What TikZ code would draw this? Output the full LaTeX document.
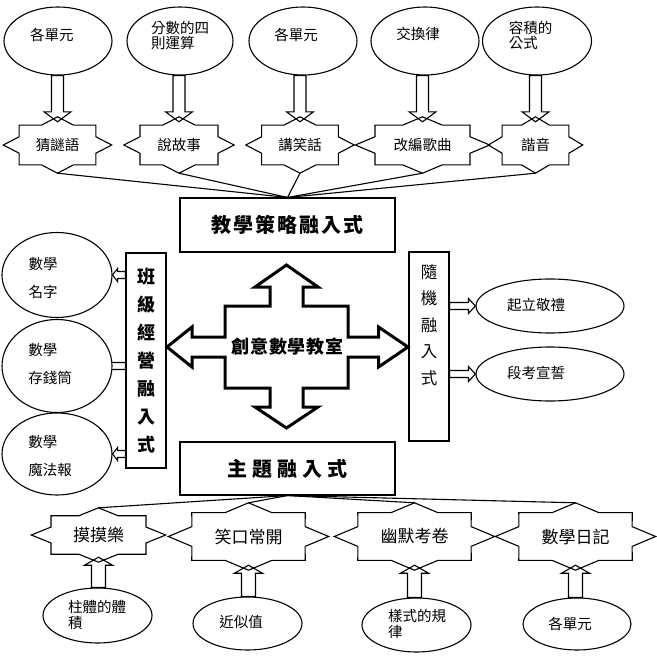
\documentclass[tikz,border=0pt]{standalone}
\usepackage{fontspec}
\setmainfont{Noto Sans CJK TC}
\newfontfamily\titlefont[LetterSpace=10]{Noto Sans CJK TC}
\newfontfamily\themefont[LetterSpace=25]{Noto Sans CJK TC}
\newfontfamily\centerfont[LetterSpace=5]{Noto Sans CJK TC}
\usetikzlibrary{shapes.geometric, calc, backgrounds}

% eight-point star drawn round a named node (node box = outer points)
\newcommand{\starframe}[1]{%
  \draw[starline] let \p1=($(#1.north east)-(#1.center)$) in
    (#1.east) \foreach \k in {0,...,7}{
      -- ($(#1.center)+({0.765*\x1*cos(\k*45+22.5)},{0.765*\y1*sin(\k*45+22.5)})$)
      -- ($(#1.center)+({\x1*cos(\k*45+45)},{\y1*sin(\k*45+45)})$)} -- cycle;
}

% block arrow: [overshoot]{from}{to}{shaft half}{head half}{head length}
\newcommand{\hollowarrow}[6][5pt]{%
  \coordinate (ha) at (#2);
  \coordinate (hb) at ($(#3)!-#1!(#2)$);
  \coordinate (hc) at ($(hb)!#6!(ha)$);
  \draw[arrowline] ($(ha)!#4!90:(hb)$) -- ($(hc)!#4!90:(hb)$) -- ($(hc)!#5!90:(hb)$) -- (hb)
     -- ($(hc)!#5!-90:(hb)$) -- ($(hc)!#4!-90:(hb)$) -- ($(ha)!#4!-90:(hb)$) -- cycle;
}

\begin{document}
\begin{tikzpicture}[
    x=1pt, y=-1pt,
    ell/.style={draw, ellipse, line width=1.1pt, fill=white, inner sep=0},
    txt/.style={font=\fontsize{14.5}{15}\selectfont, align=left, inner sep=0},
    wtxt/.style={font=\fontsize{14.5}{28}\selectfont, align=left, inner sep=0},
    stop/.style={inner sep=0, minimum height=56, font=\fontsize{14.5}{16}\selectfont},
    sbot/.style={inner sep=0, minimum height=67, font=\fontsize{17}{18}\selectfont},
    starline/.style={line width=1.1pt},
    arrowline/.style={line width=1.1pt},
    link/.style={line width=1.1pt},
    tbox/.style={draw, line width=1.1pt, inner sep=0, font=\fontsize{20}{22}\titlefont\bfseries},
    cross/.style={line width=3pt, line join=miter},
]
\useasboundingbox (0,0) rectangle (656,664);

% --- top: ellipses and stars
\node[ell, minimum width=108, minimum height=68] (e1) at (58,41) {};
\node[ell, minimum width=106, minimum height=68] (e2) at (180,41) {};
\node[ell, minimum width=108, minimum height=68] (e3) at (303,41) {};
\node[ell, minimum width=108, minimum height=68] (e4) at (425,41) {};
\node[ell, minimum width=109, minimum height=68] (e5) at (537,41) {};
\node[txt] (e1t) at (52,35) {各單元};
\node[txt] (e2t) at (180,35.5) {分數的四\\則運算};
\node[txt] (e3t) at (296,35) {各單元};
\node[txt] (e4t) at (418,34) {交換律};
\node[txt] (e5t) at (530.5,35.5) {容積的\\公式};

\node[stop, minimum width=108] (s1) at (57.5,145) {猜謎語};
\node[stop, minimum width=110] (s2) at (179,145) {說故事};
\node[stop, minimum width=108] (s3) at (300,145) {講笑話};
\node[stop, minimum width=134] (s4) at (422.5,145) {改編歌曲};
\node[stop, minimum width=94] (s5) at (535.5,145) {諧音};
\foreach \s in {s1,s2,s3,s4,s5} {\starframe{\s}}

\foreach \i in {1,...,5}
  {\hollowarrow{s\i.north |- e\i.south}{s\i.north}{6pt}{13.5pt}{10pt}}

% --- centre boxes
\node[tbox, minimum width=215, minimum height=54] (tb) at (287.5,225) {教學策略融入式};
\node[tbox, minimum width=215, minimum height=53, font=\fontsize{20}{22}\themefont\bfseries]
      (bb) at (287.5,468.5) {主題融入式};
\node[tbox, minimum width=40, minimum height=215, align=center,
      font=\fontsize{18}{28}\selectfont\bfseries] (cm) at (146,360.5)
      {班\\級\\經\\營\\融\\入\\式};
\node[tbox, minimum width=40, minimum height=189] (rj) at (429,346.5) {};
\node[inner sep=0, align=center, font=\fontsize{16.5}{26.5}\selectfont] (rjt) at (429,325)
      {隨\\機\\融\\入\\式};

\foreach \i in {1,...,5} {\draw[link] (s\i.south) -- (tb.north);}

% --- four-way arrow
\node[inner sep=0, font=\fontsize{18}{20}\centerfont\bfseries] (cq) at (287.5,347) {創意數學教室};
\draw[cross, shift={(286.5,347)}]
  (0,-82) -- (31.5,-60) -- (16.5,-60) -- (16.5,-41) -- (61.5,-41) -- (61.5,-10)
  -- (92,-10) -- (92,-20) -- (121.5,0) -- (92,20) -- (92,10) -- (61.5,10)
  -- (61.5,41) -- (16.5,41) -- (16.5,60) -- (31.5,60) -- (0,81) -- (-31.5,60)
  -- (-16.5,60) -- (-16.5,41) -- (-61.5,41) -- (-61.5,10) -- (-94.5,10)
  -- (-94.5,20) -- (-119.5,0) -- (-94.5,-20) -- (-94.5,-10) -- (-61.5,-10)
  -- (-61.5,-41) -- (-16.5,-41) -- (-16.5,-60) -- (-31.5,-60) -- cycle;

% --- left ellipses
\node[ell, minimum width=110, minimum height=85] (l1) at (57,275) {};
\node[ell, minimum width=110, minimum height=93] (l2) at (57,366) {};
\node[ell, minimum width=110, minimum height=82] (l3) at (57,454) {};
\node[wtxt] (l1t) at (43,278) {數學\\名字};
\node[wtxt] (l2t) at (50,364) {數學\\存錢筒};
\node[wtxt] (l3t) at (50,456) {數學\\魔法報};
\begin{scope}[on background layer]
  \hollowarrow[0pt]{cm.west |- l1.east}{l1.east}{3.5pt}{6.5pt}{5pt}
  \hollowarrow[0pt]{cm.west |- l2.east}{$(l2.east)+(-8,0)$}{3.5pt}{6.5pt}{5pt}
  \hollowarrow[0pt]{cm.west |- l3.east}{l3.east}{3.5pt}{6.5pt}{5pt}
\end{scope}

% --- right ellipses
\node[ell, minimum width=148, minimum height=54] (r1) at (550,306) {};
\node[ell, minimum width=148, minimum height=54] (r2) at (550,374) {};
\node[txt] (r1t) at (536,305) {起立敬禮};
\node[txt] (r2t) at (536,373) {段考宣誓};
\hollowarrow[0pt]{rj.east |- r1.west}{r1.west}{3.5pt}{7.5pt}{7pt}
\hollowarrow[0pt]{rj.east |- r2.west}{r2.west}{3.5pt}{7.5pt}{7pt}

% --- bottom: stars and ellipses
\node[sbot, minimum width=134, minimum height=54] (b1) at (98.5,535) {摸摸樂};
\node[sbot, minimum width=160] (b2) at (248.5,536.5) {笑口常開};
\node[sbot, minimum width=160] (b3) at (414.5,536.5) {幽默考卷};
\node[sbot, minimum width=160] (b4) at (575.5,536.5) {數學日記};
\foreach \s in {b1,b2,b3,b4} {\starframe{\s}}
\foreach \i in {1,...,4} {\draw[link] (bb.south) -- (b\i.north);}

\node[ell, minimum width=109, minimum height=55] (f1) at (97.5,615.5) {};
\node[ell, minimum width=109, minimum height=53] (f2) at (247.5,623.5) {};
\node[ell, minimum width=109, minimum height=54] (f3) at (416.5,625) {};
\node[ell, minimum width=108, minimum height=52] (f4) at (577,624) {};
\node[txt, font=\fontsize{14.5}{16}\selectfont] (f1t) at (97,615) {柱體的體\\積};
\node[txt] (f2t) at (241,622) {近似值};
\node[txt, font=\fontsize{14.5}{16}\selectfont] (f3t) at (417,623.5) {樣式的規\\律};
\node[txt] (f4t) at (570,624) {各單元};

\foreach \i in {1,...,4}
  {\hollowarrow{b\i.south |- f\i.north}{b\i.south}{7pt}{14pt}{8pt}}

\end{tikzpicture}
\end{document}
